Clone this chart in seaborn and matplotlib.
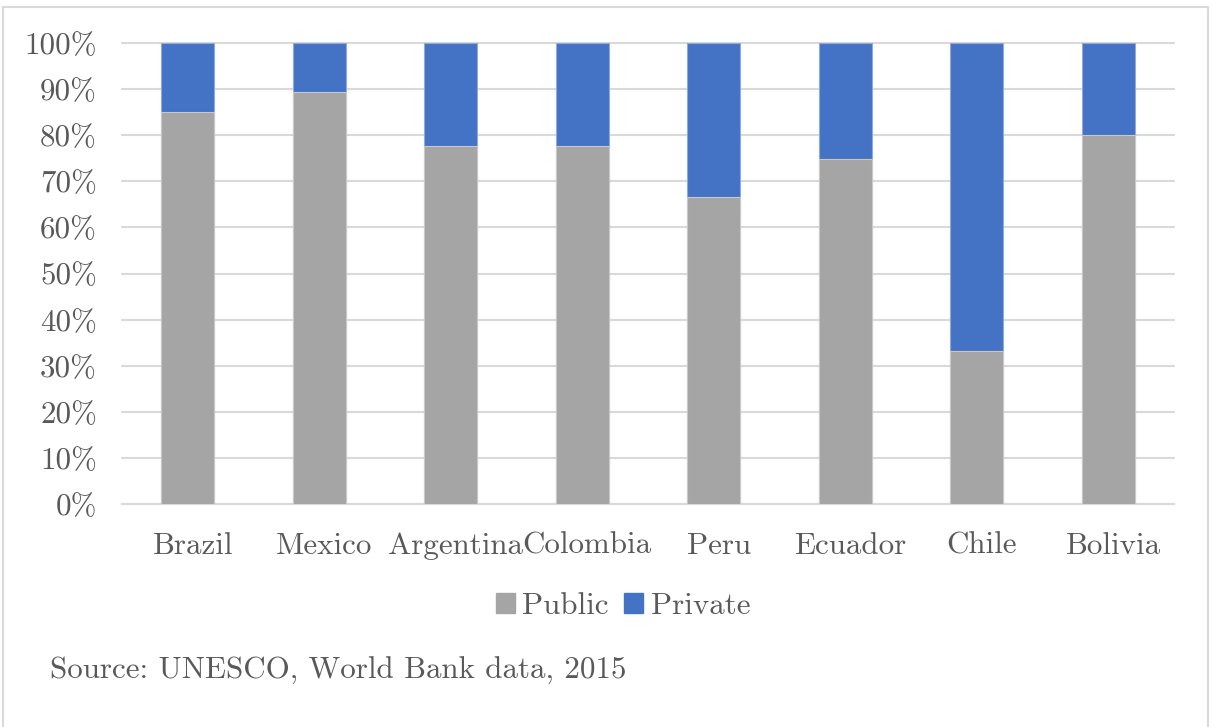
import matplotlib
matplotlib.use("Agg")
import matplotlib.pyplot as plt
import matplotlib.transforms as mtransforms
from matplotlib.patches import Rectangle
import seaborn as sns
import pandas as pd

countries = ["Brazil", "Mexico", "Argentina", "Colombia", "Peru", "Ecuador", "Chile", "Bolivia"]
public = [85.0, 89.4, 77.7, 77.7, 66.6, 74.8, 33.2, 80.0]
private = [15.0, 10.6, 22.3, 22.3, 33.4, 25.2, 66.8, 20.0]
ytick_values = list(range(0, 101, 10))
ytick_labels = [f"{v}%" for v in ytick_values]
source_note = "Source: UNESCO, World Bank data, 2015"

GREY = "#A5A5A5"
BLUE = "#4472C4"
TEXT = "#595959"
GRID = "#D9D9D9"
FS = 22.3

sns.set_style("white")
plt.rcParams["font.family"] = ["cmr10", "DejaVu Serif"]
plt.rcParams["axes.formatter.use_mathtext"] = True

df = pd.DataFrame({"country": countries, "public": public, "private": private})
df["total"] = df["public"] + df["private"]

W, H = 1212, 727
fig = plt.figure(figsize=(W / 100, H / 100), dpi=100)
ax = fig.add_axes([122 / W, (H - 504) / H, 1052 / W, 461 / H])

# stacked bars: full column in blue, public share overlaid in grey
sns.barplot(data=df, x="country", y="total", color=BLUE, width=0.4, ax=ax,
            edgecolor="#8FAADC", linewidth=0.8, saturation=1, zorder=3)
sns.barplot(data=df, x="country", y="public", color=GREY, width=0.4, ax=ax,
            edgecolor="#C9C9C9", linewidth=0.8, saturation=1, zorder=4)

ax.set_ylim(0, 100)
ax.set_yticks(ytick_values)
ax.set_yticklabels(ytick_labels)
ax.set_xlabel("")
ax.set_ylabel("")
ax.grid(axis="y", color=GRID, linewidth=1.5, zorder=0)
for gl in ax.get_ygridlines():
    gl.set_clip_on(False)
for s in ["top", "right", "left"]:
    ax.spines[s].set_visible(False)
ax.spines["bottom"].set_color(GRID)
ax.spines["bottom"].set_linewidth(1.5)
ax.tick_params(axis="both", length=0, labelsize=FS, colors=TEXT)
ax.tick_params(axis="y", pad=18)
ax.tick_params(axis="x", pad=20)

# nudge category labels slightly to the right
shift = mtransforms.ScaledTranslation(5 / 100, 0, fig.dpi_scale_trans)
for lbl in ax.get_xticklabels():
    lbl.set_transform(lbl.get_transform() + shift)

# legend
handles = [Rectangle((0, 0), 1, 1, color=GREY), Rectangle((0, 0), 1, 1, color=BLUE)]
leg = fig.legend(handles, ["Public", "Private"], loc="center", bbox_to_anchor=(623 / W, 1 - 606 / H),
                 ncol=2, frameon=False, fontsize=FS, handlelength=0.6, handleheight=0.6,
                 handletextpad=0.25, columnspacing=0.5)
for t in leg.get_texts():
    t.set_color(TEXT)

fig.text(50 / W, 1 - 671 / H, source_note, ha="left", va="center", fontsize=FS, color=TEXT)

# outer chart frame
fig.patches.append(Rectangle((3 / W, -0.05), 1205 / W, (H - 7) / H + 0.05, transform=fig.transFigure,
                             fill=False, edgecolor=GRID, linewidth=1.5))

fig.savefig("out.png", dpi=100)
